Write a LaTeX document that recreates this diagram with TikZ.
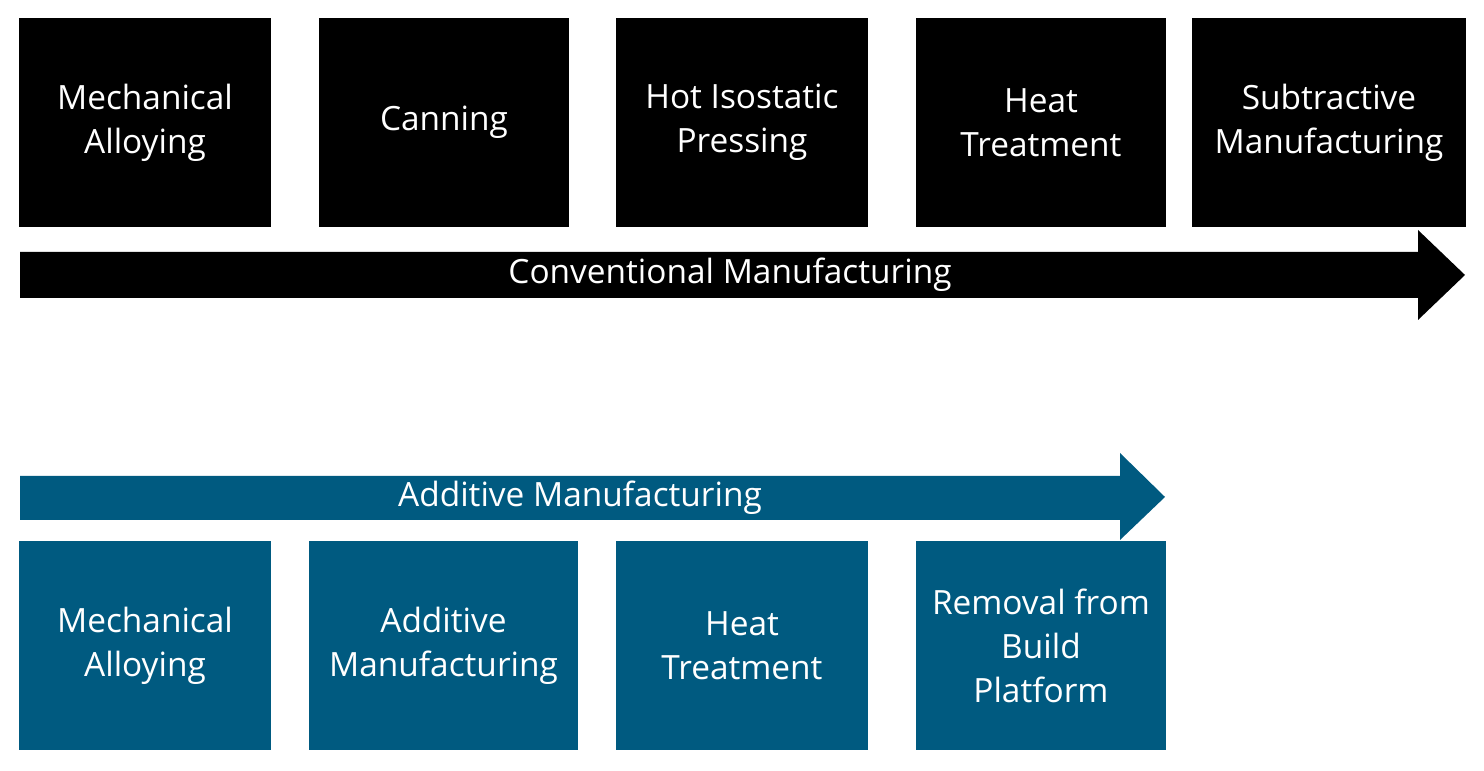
\documentclass[tikz,border=0pt]{standalone}
\usepackage{fontspec}
\setmainfont{Open Sans}
\definecolor{amblue}{HTML}{005A80}
\tikzset{
    step/.style={fill=#1, draw=#1, text=white, align=center, inner sep=0pt,
        minimum height=2.08cm, font=\fontsize{9.5}{12.5}\selectfont},
    lbl/.style={text=white, font=\fontsize{9.5}{12.5}\selectfont}
}
\begin{document}
\begin{tikzpicture}[x=0.01cm,y=-0.01cm]
    \useasboundingbox (0,0) rectangle (1484,771);

    % conventional route
    \node[step=black, minimum width=2.5cm] (cma) at (145,122.5) {Mechanical\\Alloying};
    \node[step=black, minimum width=2.48cm] (can) at (444,122.5) {Canning};
    \node[step=black, minimum width=2.5cm] (hip) at (742,122.5) {Hot Isostatic\\Pressing};
    \node[step=black, minimum width=2.48cm] (cht) at (1041,122.5) {Heat\\Treatment};
    \node[step=black, minimum width=2.72cm] (sub) at (1329,122.5) {Subtractive\\Manufacturing};

    \fill[black] (20,252) -- (1418,252) -- (1418,230) -- (1465,275) -- (1418,320)
        -- (1418,298) -- (20,298) -- cycle;
    \node[lbl] (conv) at (730,275) {Conventional Manufacturing};

    % additive route
    \fill[amblue] (20,476) -- (1120,476) -- (1120,453) -- (1165,497) -- (1120,540)
        -- (1120,520) -- (20,520) -- cycle;
    \node[lbl] (add) at (580,498) {Additive Manufacturing};

    \node[step=amblue, minimum width=2.5cm] (ama) at (145,645.5) {Mechanical\\Alloying};
    \node[step=amblue, minimum width=2.67cm] (amf) at (443.5,645.5) {Additive\\Manufacturing};
    \node[step=amblue, minimum width=2.5cm] (aht) at (742,645.5) {Heat\\Treatment};
    \node[step=amblue, minimum width=2.48cm] (rem) at (1041,645.5) {Removal from\\Build\\Platform};
\end{tikzpicture}
\end{document}
